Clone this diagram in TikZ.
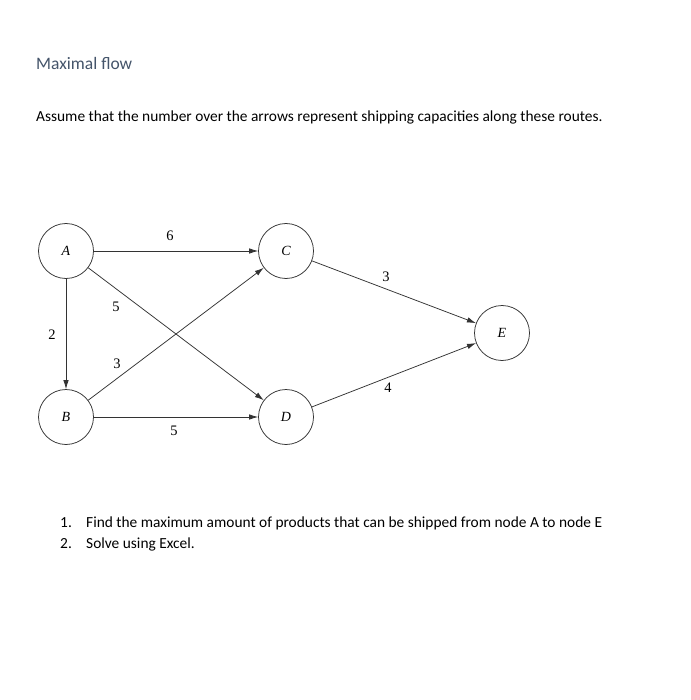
\documentclass[tikz,border=0pt]{standalone}
\usepackage{fontspec}
\setmainfont{Carlito}
\newfontfamily\serifnum{Liberation Serif}
\usetikzlibrary{arrows.meta}
\definecolor{titleblue}{HTML}{44546A}
\definecolor{edgegray}{HTML}{333333}
\begin{document}
\begin{tikzpicture}[x=1pt,y=-1pt,
  vert/.style={circle,draw=edgegray,line width=0.75pt,minimum size=55pt,inner sep=0pt,font=\serifnum\itshape\fontsize{14}{16}\selectfont},
  edge/.style={draw=edgegray,line width=0.75pt,-{Latex[length=9pt,width=5.5pt]}},
  capacity/.style={font=\serifnum\fontsize{14.5}{16}\selectfont,inner sep=0pt},
  txt/.style={anchor=base west,inner sep=0pt,font=\fontsize{15.4}{18}\selectfont}]
\useasboundingbox (0,0) rectangle (690,700);
\fill[white] (0,0) rectangle (690,700);
\node[txt,text=titleblue,font=\fontsize{17.5}{20}\selectfont] (title) at (36,70) {Maximal flow};
\node[txt] (intro) at (36,122) {Assume that the number over the arrows represent shipping capacities along these routes.};
\node[vert] (A) at (66,251) {A};
\node[vert] (B) at (66,417) {B};
\node[vert] (C) at (286,251) {C};
\node[vert] (D) at (286,417) {D};
\node[vert] (E) at (502,333) {E};
\draw[edge] (A) -- (C);
\draw[edge] (A) -- (B);
\draw[edge] (A) -- (D);
\draw[edge] (B) -- (C);
\draw[edge] (B) -- (D);
\draw[edge] (C) -- (E);
\draw[edge] (D) -- (E);
\node[capacity] (l6) at (170,236) {6};
\node[capacity] (l5a) at (116,307) {5};
\node[capacity] (l2) at (52,335) {2};
\node[capacity] (l3a) at (117,364) {3};
\node[capacity] (l5b) at (174,431) {5};
\node[capacity] (l3b) at (386,277) {3};
\node[capacity] (l4) at (388,388) {4};
\node[txt] (n1) at (60,527) {1.};
\node[txt] (t1) at (86,527) {Find the maximum amount of products that can be shipped from node A to node E};
\node[txt] (n2) at (60,548) {2.};
\node[txt] (t2) at (86,548) {Solve using Excel.};
\end{tikzpicture}
\end{document}
